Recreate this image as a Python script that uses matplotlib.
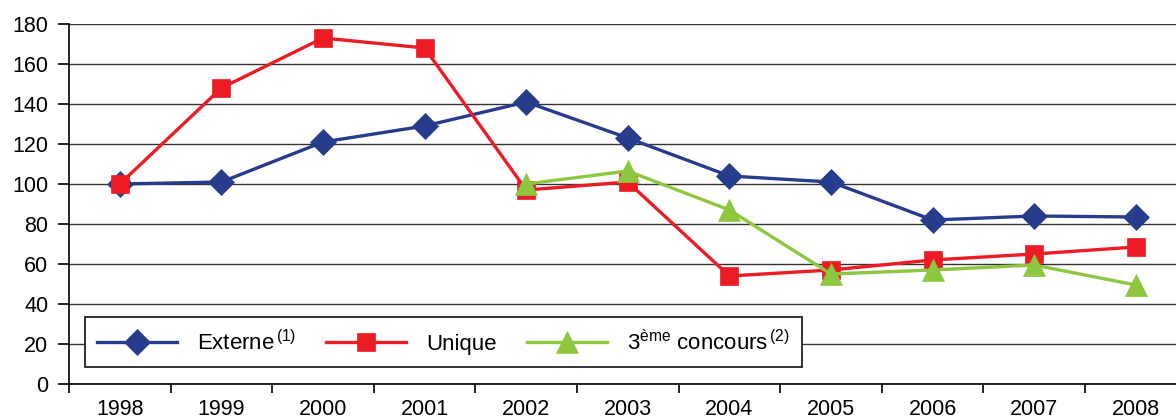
import matplotlib
matplotlib.use("Agg")
import matplotlib.pyplot as plt
import numpy as np

years = ["1998", "1999", "2000", "2001", "2002", "2003", "2004", "2005", "2006", "2007", "2008"]
externe = [100, 101, 121, 129, 141, 123, 104, 101, 82, 84, 83.5]
unique = [100, 148, 173, 168, 97, 101, 54, 57, 62, 65, 68.5]
troisieme_years = ["2002", "2003", "2004", "2005", "2006", "2007", "2008"]
troisieme = [100, 106.5, 87, 55, 57, 59.5, 49.5]
yticks = [0, 20, 40, 60, 80, 100, 120, 140, 160, 180]

plt.rcParams['font.family'] = ['Liberation Sans', 'DejaVu Sans']
plt.rcParams['mathtext.fontset'] = 'custom'
plt.rcParams['mathtext.rm'] = 'Liberation Sans'
plt.rcParams['mathtext.it'] = 'Liberation Sans'

fig = plt.figure(figsize=(11.76, 4.2), dpi=100)
ax = fig.add_axes([69/1176, 1-384/420, 1117.6/1176, 360/420])

x = np.arange(len(years))
x3 = np.array([years.index(y) for y in troisieme_years])

ax.plot(x, externe, color="#283C8E", lw=2.4, marker="D", ms=13, mew=0.5,
        label="Externe$^{\\,\\mathrm{(1)}}$", zorder=3)
ax.plot(x, unique, color="#ED1C24", lw=2.4, marker="s", ms=13, mew=0.5,
        label="Unique", zorder=4)
ax.plot(x3, troisieme, color="#8DC63F", lw=2.4, marker="^", ms=16, mew=0.5,
        label="3$^{\\mathrm{ème}}$ concours$^{\\,\\mathrm{(2)}}$", zorder=5)

ax.set_ylim(0, 180)
ax.set_yticks(yticks)
ax.set_xlim(-0.5, len(years) - 0.5)
ax.set_xticks(x)
ax.set_xticklabels(years)
ax.set_xticks(np.arange(-0.5, len(years)), minor=True)
ax.tick_params(axis='x', which='major', length=0, labelsize=15.5, pad=10.5)
ax.tick_params(axis='x', which='minor', length=6.5, width=1.2, direction='out')
ax.tick_params(axis='y', length=8, width=1.2, direction='out', labelsize=15.5, pad=7)

ax.grid(axis='y', color='#333333', lw=1.0)
ax.set_axisbelow(True)
for s in ['top', 'right']:
    ax.spines[s].set_visible(False)
ax.spines['left'].set_linewidth(1.2)
ax.spines['bottom'].set_linewidth(1.2)

leg = ax.legend(loc='lower left', bbox_to_anchor=(16/1117.6, 17/360), ncol=3, frameon=True,
                fancybox=False, edgecolor='#222222', fontsize=16, handlelength=3.6,
                columnspacing=1.35, handletextpad=0.9, borderpad=0.55, borderaxespad=0)
leg.get_frame().set_linewidth(1.3)
leg.get_frame().set_alpha(1)

fig.savefig("out.png", dpi=100)
